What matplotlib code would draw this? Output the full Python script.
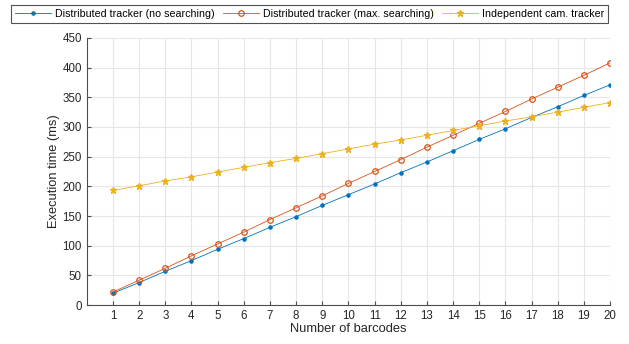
import matplotlib
matplotlib.use('Agg')
import matplotlib.pyplot as plt
import numpy as np

barcodes = list(range(1, 21))
no_search = [20, 38, 57, 75, 94, 112, 131, 149, 168, 186,
             204, 223, 241, 260, 279, 297, 316, 334, 353, 371]
max_search = [22, 42, 62, 83, 103, 123, 144, 164, 184, 205,
              225, 245, 266, 286, 306, 326, 347, 367, 387, 408]
independent = [193, 201, 209, 216, 224, 232, 240, 247, 255, 263,
               271, 278, 286, 294, 302, 310, 317, 325, 333, 341]

plt.rcParams['font.family'] = ['Liberation Sans', 'DejaVu Sans']

fig = plt.figure(figsize=(6.29, 3.44), dpi=100)
ax = fig.add_axes([0.138, 0.113, 0.832, 0.777])

ax.plot(barcodes, no_search, color='#0072BD', lw=0.6, marker='.', ms=4.5,
        label='Distributed tracker (no searching)')
ax.plot(barcodes, max_search, color='#D95319', lw=0.6, marker='o', ms=4,
        mfc='none', mew=0.9, label='Distributed tracker (max. searching)')
ax.plot(barcodes, independent, color='#EDB120', lw=0.6, marker='*', ms=5,
        label='Independent cam. tracker')

ax.set_xlim(0, 20)
ax.set_ylim(0, 450)
ax.set_xticks(barcodes)
ax.set_yticks(np.arange(0, 451, 50))
ax.grid(True, color='#e6e6e6', lw=0.8)
ax.set_axisbelow(True)
for s in ['top', 'right']:
    ax.spines[s].set_visible(False)
for s in ['left', 'bottom']:
    ax.spines[s].set_color('#4d4d4d')
    ax.spines[s].set_linewidth(0.8)
ax.tick_params(direction='in', length=3, colors='#4d4d4d', labelsize=8.3,
               labelcolor='#262626')
ax.set_xlabel('Number of barcodes', fontsize=9.3, color='#262626', labelpad=1)
ax.set_ylabel('Execution time (ms)', fontsize=9.3, color='#262626', labelpad=2)

leg = fig.legend(loc='upper left', bbox_to_anchor=(0.0175, 0.985), ncol=3,
                 fontsize=7.7, frameon=True, fancybox=False, handlelength=3.4,
                 columnspacing=0.75, handletextpad=0.37, borderpad=0.35,
                 borderaxespad=0)
leg.get_frame().set_edgecolor('#262626')
leg.get_frame().set_linewidth(0.8)

fig.savefig('out.png', dpi=100)
